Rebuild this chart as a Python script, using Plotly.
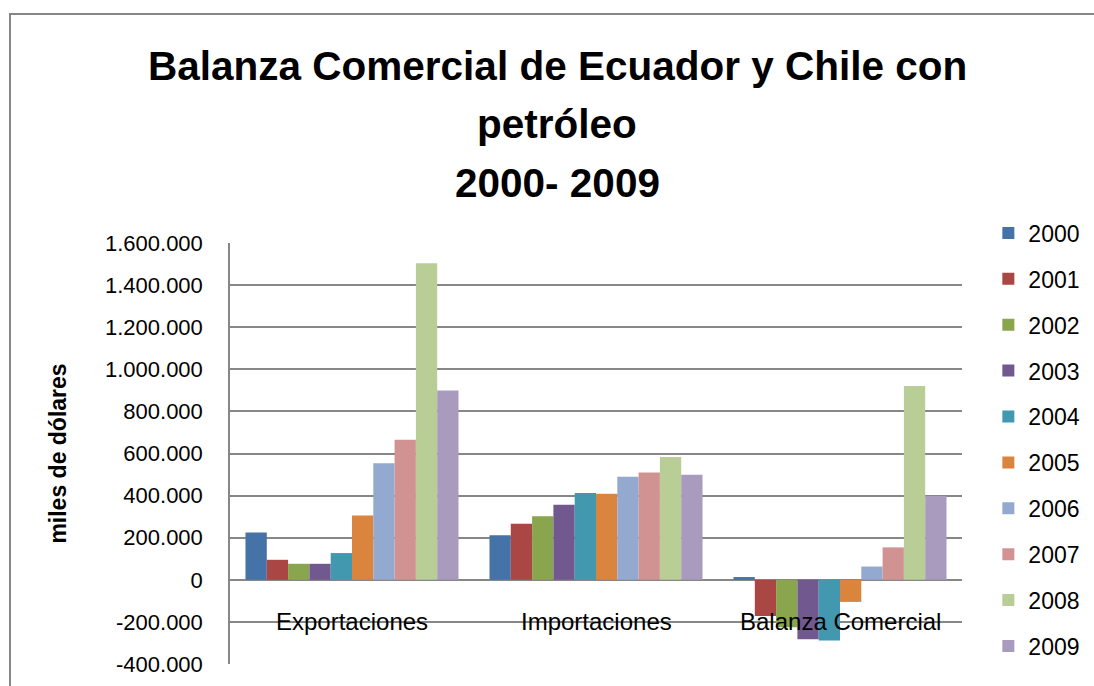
import plotly.graph_objects as go

# Categories and yearly series (miles de dólares)
categorias = ["Exportaciones", "Importaciones", "Balanza Comercial"]
anios = ["2000", "2001", "2002", "2003", "2004", "2005", "2006", "2007", "2008", "2009"]

exportaciones = [225000, 95000, 76000, 76000, 127000, 305000, 554000, 665000, 1504000, 899000]
importaciones = [212000, 266000, 302000, 356000, 412000, 409000, 489000, 510000, 583000, 499000]
balanza = [13000, -172000, -226000, -282000, -288000, -105000, 63000, 154000, 921000, 398000]

colores = ["#4572A7", "#AA4643", "#89A54E", "#71588F", "#4198AF",
           "#DB843D", "#93A9CF", "#D19392", "#B9CD96", "#A99BBD"]

tick_vals = [-400000, -200000, 0, 200000, 400000, 600000, 800000,
             1000000, 1200000, 1400000, 1600000]
tick_text = ["-400.000", "-200.000", "0", "200.000", "400.000", "600.000", "800.000",
             "1.000.000", "1.200.000", "1.400.000", "1.600.000"]

titulo = ["Balanza Comercial de Ecuador y Chile con", "petróleo", "2000- 2009"]

FONT = "Liberation Sans, Arial, sans-serif"

fig = go.Figure()
for i, anio in enumerate(anios):
    fig.add_trace(go.Bar(
        x=categorias,
        y=[exportaciones[i], importaciones[i], balanza[i]],
        name=anio,
        legendgroup=anio,
        marker=dict(color=colores[i], line=dict(width=0)),
    ))

# category labels sit just below the zero line, like in Excel
for cat in categorias:
    fig.add_annotation(x=cat, y=0, yshift=-42, text=cat, showarrow=False,
                       font=dict(family=FONT, size=24, color="#000000"))

# three title lines
for texto, py in zip(titulo, [66, 124, 183]):
    fig.add_annotation(xref="paper", yref="paper", x=(557 - 230) / 732,
                       y=(664 - py) / 421, text="<b>" + texto + "</b>",
                       showarrow=False, xanchor="center", yanchor="middle",
                       font=dict(family=FONT, size=40.5, color="#000000"))

# chart border
fig.add_shape(type="rect", xref="paper", yref="paper",
              x0=(10 - 230) / 732, x1=(1110 - 230) / 732,
              y0=(664 - 700) / 421, y1=(664 - 14) / 421,
              line=dict(color="#878787", width=2), fillcolor="rgba(0,0,0,0)")

fig.update_layout(
    width=1094, height=686,
    margin=dict(l=230, r=132, t=243, b=22, autoexpand=False),
    paper_bgcolor="white", plot_bgcolor="white",
    barmode="group", bargap=0.127, bargroupgap=0,
    font=dict(family=FONT, color="#000000"),
    showlegend=True,
    legend=dict(x=1.036, y=1.075, xanchor="left", yanchor="top",
                font=dict(family=FONT, size=23), tracegroupgap=13,
                itemwidth=30, bgcolor="rgba(0,0,0,0)", maxheight=660),
    xaxis=dict(showticklabels=False, showgrid=False, zeroline=False,
               showline=False, ticks=""),
    yaxis=dict(range=[-400000, 1600000], tickvals=tick_vals, ticktext=tick_text,
               showgrid=True, gridcolor="#878787", gridwidth=1.5,
               zeroline=True, zerolinecolor="#878787", zerolinewidth=1.5,
               showline=True, linecolor="#878787", linewidth=1.5,
               ticks="", ticklabelstandoff=21,
               tickfont=dict(family=FONT, size=22),
               title=dict(text="<b>miles de dólares</b>", standoff=32,
                          font=dict(family=FONT, size=23))),
)

fig.write_html("out.html", config={"displayModeBar": False},
               post_script="document.body.style.margin='0';")
